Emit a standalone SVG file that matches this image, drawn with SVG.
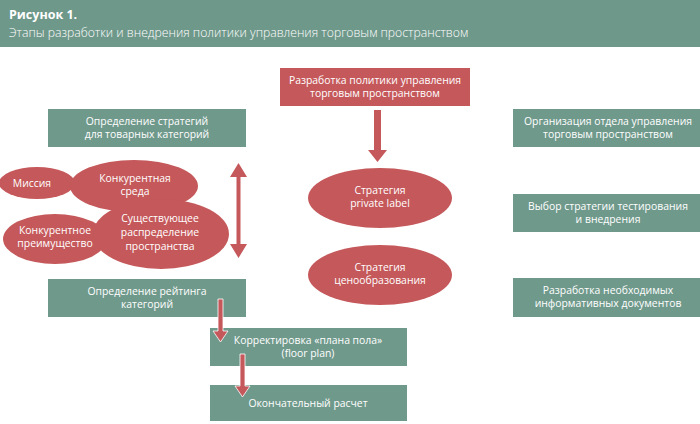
<svg xmlns="http://www.w3.org/2000/svg" width="700" height="424" viewBox="0 0 700 424">
<defs>
<style>
.g{fill:#6f998b}
.r{fill:#c5585a}
.t{font-family:"Open Sans","Noto Sans",sans-serif;font-size:10.4px;fill:#fff;text-anchor:middle}
.arr{fill:#c5585a;stroke:#fff;stroke-width:0.8}
</style>
</defs>
<rect x="0" y="0" width="700" height="424" fill="#fff"/>
<g id="header">
<rect x="0" y="0" width="700" height="47" fill="#6e988a"/>
<text x="9" y="19" font-family="'Open Sans','Noto Sans',sans-serif" font-size="12.5" font-weight="bold" fill="#fff">Рисунок 1.</text>
<text x="9" y="37" font-family="'Open Sans','Noto Sans',sans-serif" font-size="12.2" font-weight="300" fill="#fff">Этапы разработки и внедрения политики управления торговым пространством</text>
</g>
<g id="n-policy"><rect class="r" x="280" y="68" width="190" height="38"/><text class="t"><tspan x="375" y="84">Разработка политики управления</tspan><tspan x="375" y="97">торговым пространством</tspan></text></g>
<g id="n-cat-strategy"><rect class="g" x="48" y="109" width="198" height="38"/><text class="t"><tspan x="147" y="125">Определение стратегий</tspan><tspan x="147" y="138">для товарных категорий</tspan></text></g>
<g id="n-org"><rect class="g" x="513" y="109" width="187" height="38"/><text class="t"><tspan x="608" y="125">Организация отдела управления</tspan><tspan x="608" y="138">торговым пространством</tspan></text></g>
<g id="n-test"><rect class="g" x="513" y="194" width="187" height="38"/><text class="t"><tspan x="608" y="210">Выбор стратегии тестирования</tspan><tspan x="608" y="223">и внедрения</tspan></text></g>
<g id="n-docs"><rect class="g" x="513" y="278" width="187" height="39"/><text class="t"><tspan x="608" y="294">Разработка необходимых</tspan><tspan x="608" y="307">информативных документов</tspan></text></g>
<g id="n-rating"><rect class="g" x="48" y="279" width="198" height="38"/><text class="t"><tspan x="147" y="295">Определение рейтинга</tspan><tspan x="147" y="308">категорий</tspan></text></g>
<g id="n-floor"><rect class="g" x="210" y="328" width="197" height="38"/><text class="t"><tspan x="308" y="344">Корректировка «плана пола»</tspan><tspan x="308" y="357">(floor plan)</tspan></text></g>
<g id="n-final"><rect class="g" x="210" y="385" width="197" height="36"/><text class="t"><tspan x="308" y="407">Окончательный расчет</tspan></text></g>
<g id="n-private"><ellipse class="r" cx="380" cy="198" rx="72" ry="30"/><text class="t"><tspan x="380" y="194">Стратегия</tspan><tspan x="380" y="207">private label</tspan></text></g>
<g id="n-pricing"><ellipse class="r" cx="380" cy="275" rx="72" ry="30"/><text class="t"><tspan x="380" y="271">Стратегия</tspan><tspan x="380" y="284">ценообразования</tspan></text></g>
<g id="n-mission"><ellipse class="r" cx="37" cy="183" rx="38" ry="16"/><text class="t"><tspan x="32" y="187">Миссия</tspan></text></g>
<g id="n-env"><ellipse class="r" cx="134" cy="186" rx="64" ry="26"/></g>
<g id="n-adv"><ellipse class="r" cx="55" cy="239" rx="52" ry="25"/></g>
<g id="n-space"><ellipse class="r" cx="161" cy="234" rx="68" ry="35"/></g>
<g id="cluster-text"><text class="t"><tspan x="135" y="182">Конкурентная</tspan><tspan x="135" y="195">среда</tspan></text><text class="t"><tspan x="55" y="234">Конкурентное</tspan><tspan x="55" y="247">преимущество</tspan></text><text class="t"><tspan x="160" y="222">Существующее</tspan><tspan x="160" y="236">распределение</tspan><tspan x="160" y="250">пространства</tspan></text></g>
<g id="connectors">
<polygon class="r" points="374,110 381,110 381,150 387,150 377.5,162 368,150 374,150"/>
<polygon class="r" points="238.5,163 247,177 240.5,177 240.5,244 247,244 238.5,258 230,244 236.5,244 236.5,177 230,177"/>
<polygon class="arr" points="218,299 223,299 223,331 228,331 220.5,342 213,331 218,331"/>
<polygon class="arr" points="240,354 245,354 245,386 250,386 242.5,397 235,386 240,386"/>
</g>
</svg>
